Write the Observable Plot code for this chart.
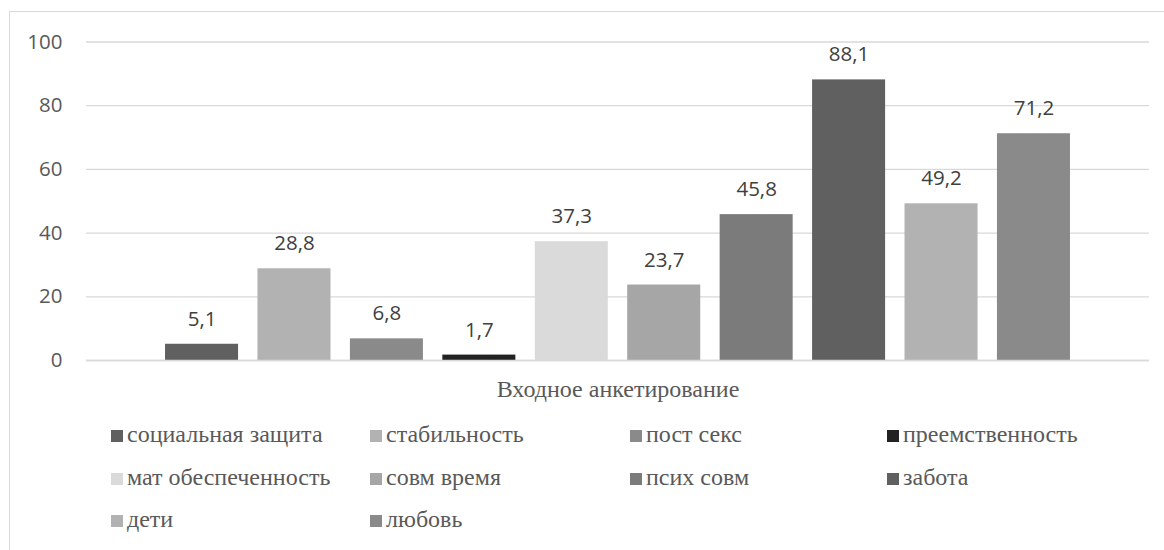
<!DOCTYPE html>
<html>
<head>
<meta charset="utf-8">
<script src="https://cdn.jsdelivr.net/npm/d3@7"></script>
<script src="https://cdn.jsdelivr.net/npm/@observablehq/plot@0.6"></script>
<style>
  html, body { margin: 0; padding: 0; background: #fff; }
  body { width: 1164px; height: 550px; position: relative; overflow: hidden; }
  #frame { position: absolute; left: 9px; top: 11px; width: 1170px; height: 560px; border: 1px solid #d9d9d9; box-sizing: border-box; }
  #chart { position: absolute; left: 0; top: 0; }
  #xtitle { position: absolute; left: 0; width: 1236px; top: 376px; text-align: center; font-family: "Liberation Serif", "Times New Roman", serif; font-size: 24px; line-height: 26px; color: #595959; }
  .leg { position: absolute; font-family: "Liberation Serif", "Times New Roman", serif; font-size: 24px; color: #595959; white-space: nowrap; line-height: 26px; }
  .leg .sw { display: inline-block; width: 12px; height: 12px; margin-right: 4px; vertical-align: 0; }
</style>
</head>
<body>
<div id="frame"></div>
<div id="chart"></div>
<div id="xtitle">Входное анкетирование</div>
<div id="legend"></div>
<script>
const categories = ["социальная защита", "стабильность", "пост секс", "преемственность", "мат обеспеченность", "совм время", "псих совм", "забота", "дети", "любовь"];
const values = [5.1, 28.8, 6.8, 1.7, 37.3, 23.7, 45.8, 88.1, 49.2, 71.2];
const colors = ["#606060", "#b2b2b2", "#8a8a8a", "#222222", "#dadada", "#a6a6a6", "#7b7b7b", "#606060", "#b2b2b2", "#8a8a8a"];
const yTicks = [0, 20, 40, 60, 80, 100];

const data = categories.map((c, i) => ({category: c, value: values[i], color: colors[i]}));
const fmt = v => String(v).replace(".", ",");

const plot = Plot.plot({
  width: 1164,
  height: 400,
  marginLeft: 86,
  marginRight: 15,
  marginTop: 41.5,
  marginBottom: 40,
  style: {background: "transparent", fontFamily: "'Open Sans', sans-serif"},
  x: {domain: categories, paddingInner: 0.21, paddingOuter: 0.855, round: false, axis: null},
  y: {domain: [0, 100], ticks: yTicks},
  marks: [
    Plot.gridY(yTicks, {stroke: "#d9d9d9", strokeOpacity: 1, strokeWidth: 1.3}),
    Plot.axisY(yTicks, {tickSize: 0, tickPadding: 24, fontSize: 20.5, fill: "#595959", label: null}),
    Plot.barY(data, {x: "category", y: "value", fill: "color"}),
    Plot.ruleY([0], {stroke: "#d9d9d9", strokeWidth: 1.3}),
    Plot.text(data, {x: "category", y: "value", text: d => fmt(d.value), dy: -25, fontSize: 20.5, fill: "#404040"})
  ]
});
document.getElementById("chart").appendChild(plot);

// legend
const colX = [111, 370, 630, 887];
const rowY = [421, 464, 506];
const legend = document.getElementById("legend");
categories.forEach((c, i) => {
  const el = document.createElement("div");
  el.className = "leg";
  el.style.left = colX[i % 4] + "px";
  el.style.top = rowY[Math.floor(i / 4)] + "px";
  const sw = document.createElement("span");
  sw.className = "sw";
  sw.style.background = colors[i];
  el.appendChild(sw);
  el.appendChild(document.createTextNode(c));
  legend.appendChild(el);
});
</script>
</body>
</html>
